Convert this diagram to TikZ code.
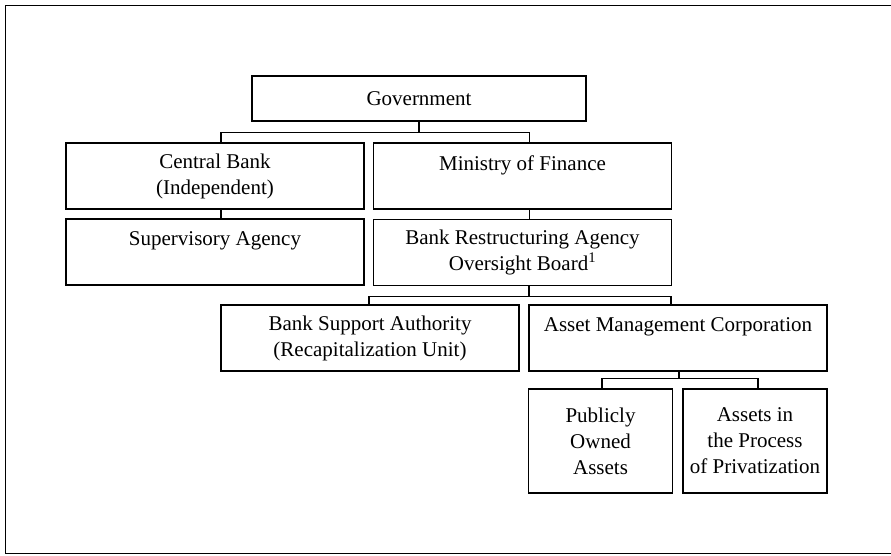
\documentclass[tikz,border=0pt]{standalone}
\usepackage{fontspec}
\setmainfont{Liberation Serif}
\begin{document}
\begin{tikzpicture}[x=1pt,y=-1pt,font=\fontsize{21}{26}\selectfont]
    \tikzstyle{unit}=[rectangle,draw,line width=1.1pt,inner sep=0pt,align=center,minimum width=298pt,minimum height=66pt];
    \tikzstyle{small}=[unit,minimum width=144pt,minimum height=104pt];
    \tikzstyle{tree}=[line width=1.1pt];
    \tikzstyle{frame}=[line width=1pt];

    \useasboundingbox (0,0) rectangle (891,555);
    \draw[frame] (891,5) -- (5,5) -- (5,553) -- (891,553);

    \node[unit,minimum width=334pt,minimum height=45pt] (gov) at (419, 98.5) {Government};

    \node[unit] (cb) at (215, 176) {Central Bank\\(Independent)};
    \node[unit] (mof) at (522.5, 176) {Ministry of Finance\\\mbox{}};
    \node[unit] (sup) at (215, 252) {Supervisory Agency\\\mbox{}};
    \node[unit] (bra) at (522.5, 252.5) {Bank Restructuring Agency\\Oversight Board\textsuperscript{1}};

    \node[unit] (bsa) at (370, 338) {Bank Support Authority\\(Recapitalization Unit)};
    \node[unit] (amc) at (678, 338) {Asset Management Corporation\\\mbox{}};

    \node[small] (poa) at (600.5, 441) {Publicly\\Owned\\Assets};
    \node[small] (app) at (755, 441) {Assets in\\the Process\\of Privatization};

    \draw[tree] (gov.south) -- ++(0,11) -| ([xshift=6]cb.north);
    \draw[tree] (gov.south) -- ++(0,11) -| ([xshift=7]mof.north);
    \draw[tree] ([xshift=6]cb.south) -- ([xshift=6]sup.north);
    \draw[tree] ([xshift=7]mof.south) -- ([xshift=7]bra.north);

    \draw[tree] ([xshift=6.5]bra.south) -- ++(0,10) -| ([xshift=-1]bsa.north);
    \draw[tree] ([xshift=6.5]bra.south) -- ++(0,10) -| ([xshift=-7]amc.north);

    \draw[tree] ([xshift=1]amc.south) -- ++(0,7) -| ([xshift=1.5]poa.north);
    \draw[tree] ([xshift=1]amc.south) -- ++(0,7) -| ([xshift=3]app.north);
\end{tikzpicture}
\end{document}
